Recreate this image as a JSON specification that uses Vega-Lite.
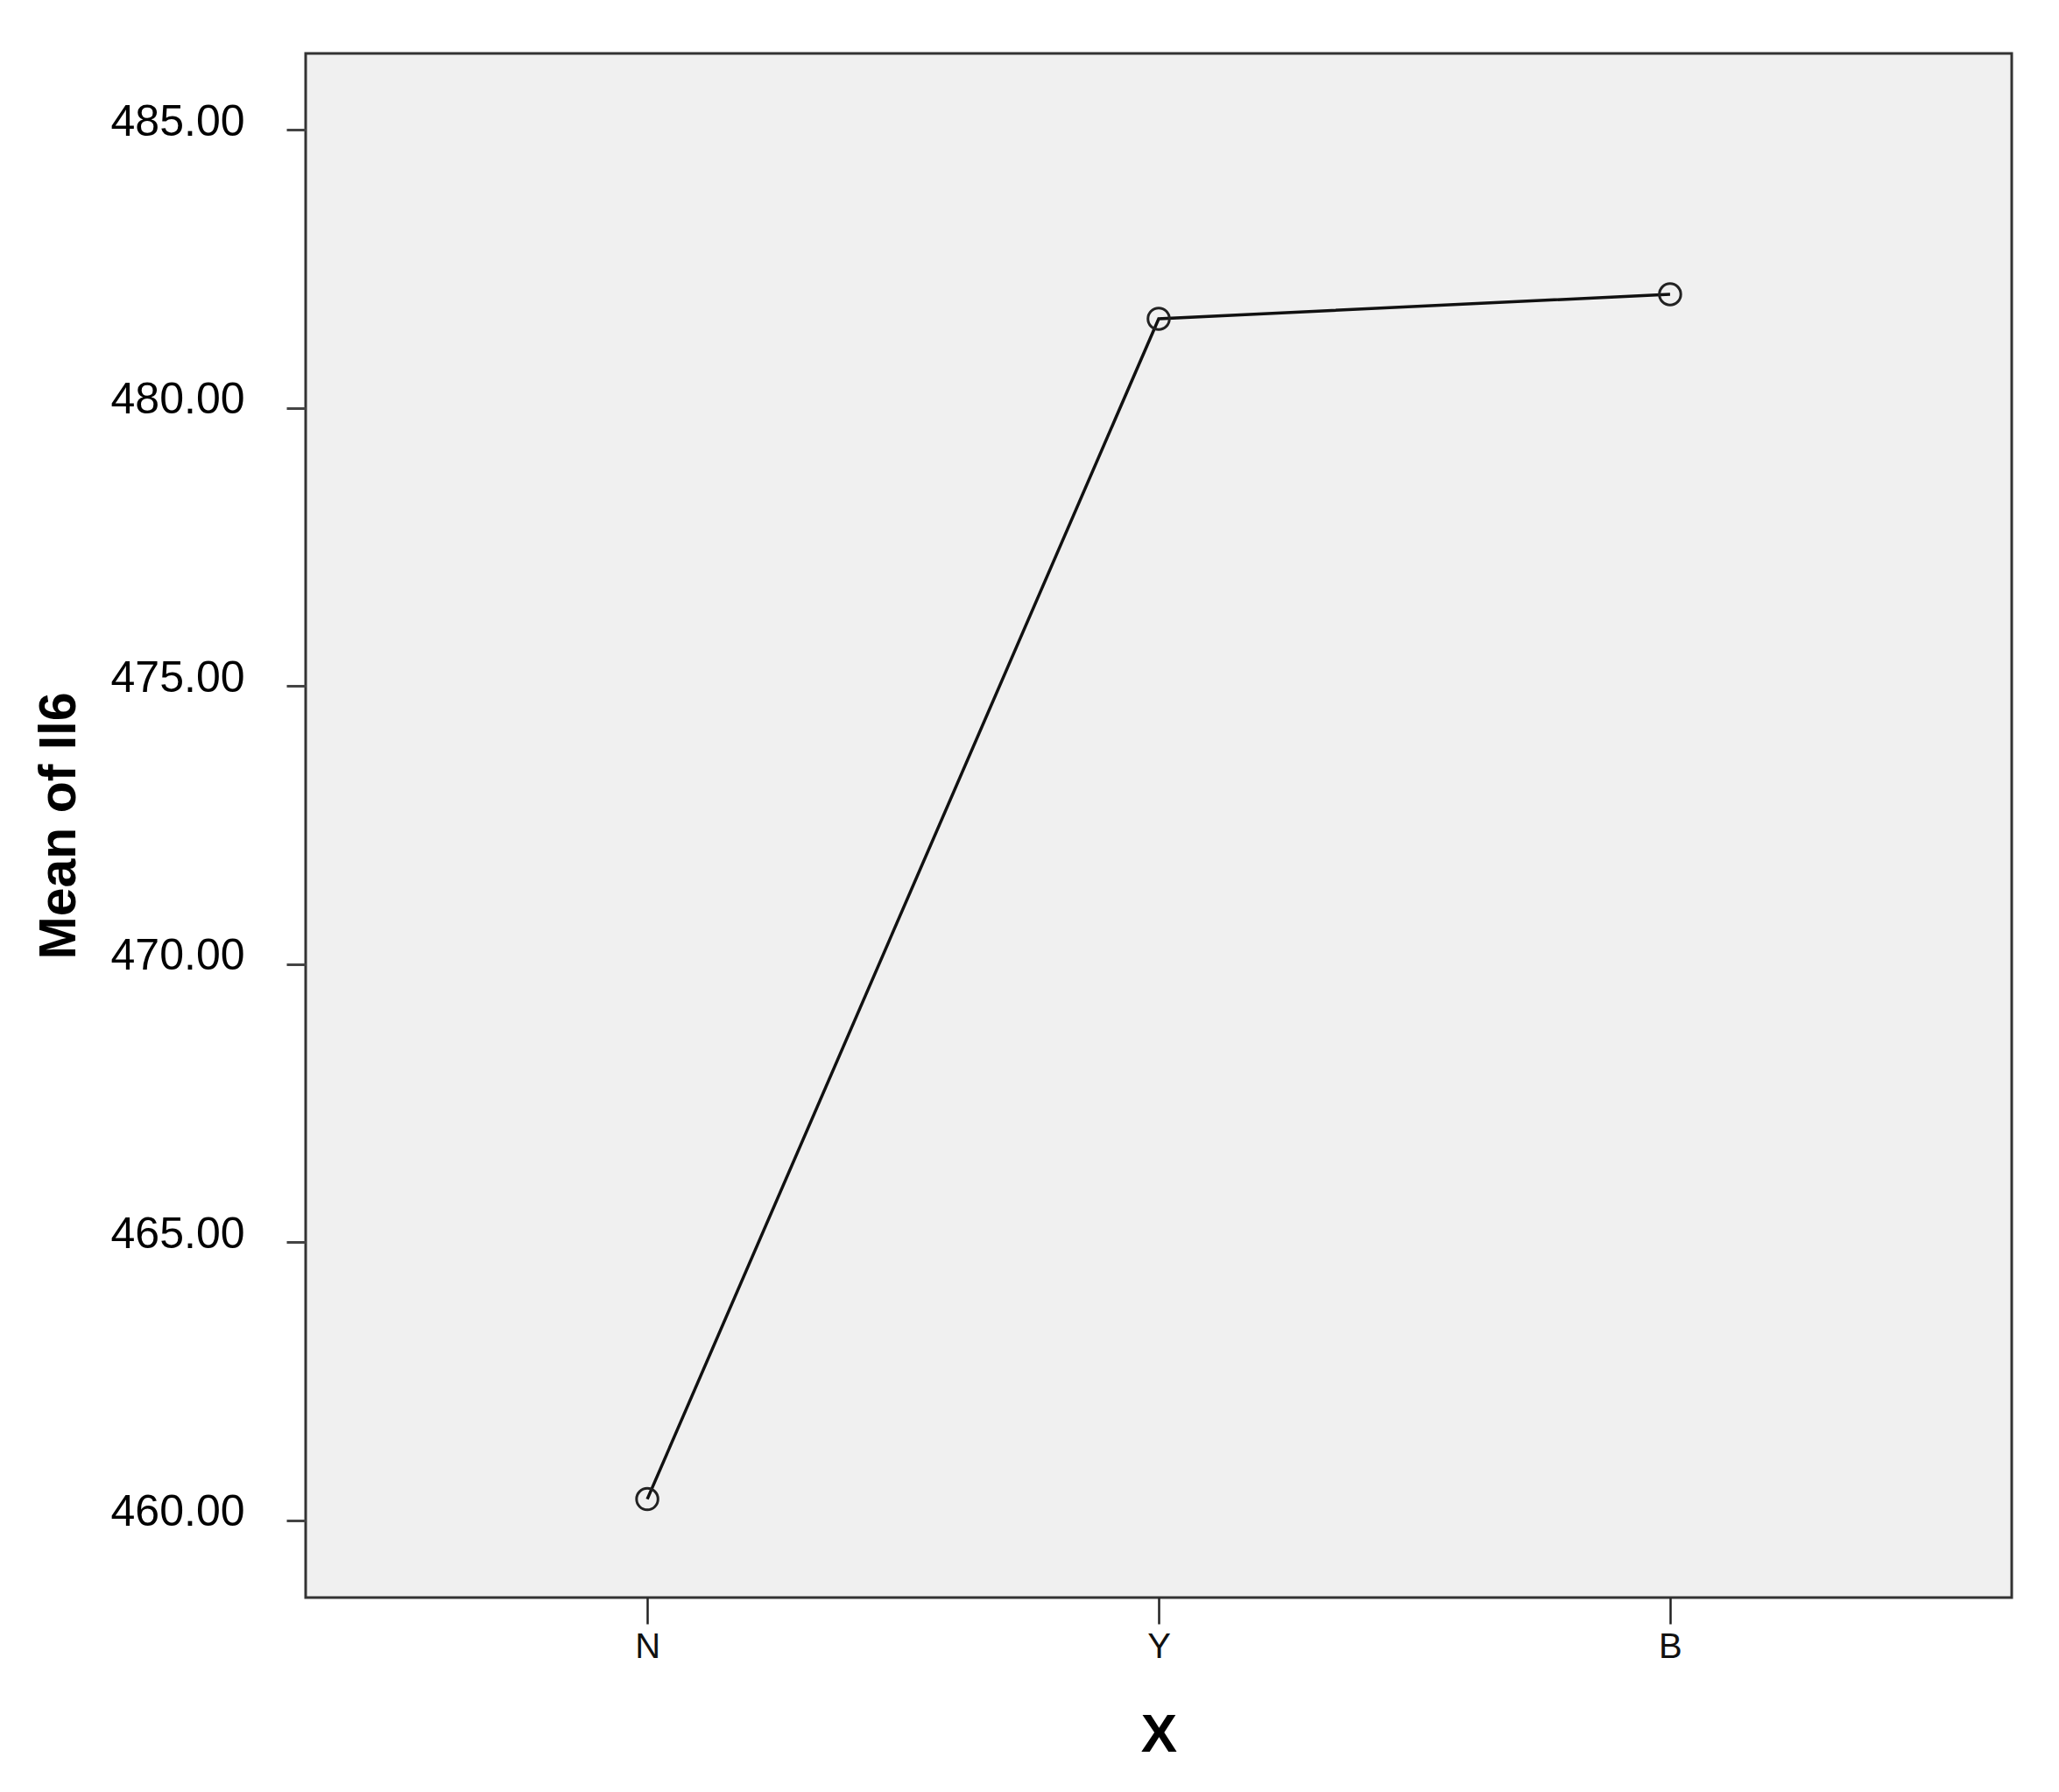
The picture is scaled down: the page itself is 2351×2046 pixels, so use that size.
{
  "$schema": "https://vega.github.io/schema/vega-lite/v6.json",
  "autosize": "none",
  "width": 1948,
  "height": 1763,
  "padding": {"left": 349, "top": 61, "right": 54, "bottom": 222},
  "background": "white",
  "config": {
    "view": {"fill": "#f0f0f0", "stroke": "#333333", "strokeWidth": 3},
    "font": "Liberation Sans"
  },
  "data": {
    "values": [
      {"X": "N", "mean": 460.38},
      {"X": "Y", "mean": 481.60},
      {"X": "B", "mean": 482.04}
    ]
  },
  "encoding": {
    "x": {
      "field": "X", "type": "ordinal", "sort": ["N", "Y", "B"],
      "scale": {"type": "point", "padding": 0.668},
      "axis": {
        "title": "X", "labelAngle": 0, "labelFontSize": 40, "labelColor": "#111111",
        "labelPadding": 6, "tickSize": 30, "tickWidth": 2.5, "tickColor": "#222222",
        "domain": false, "grid": false,
        "titleFontSize": 62, "titleFontWeight": "bold", "titleColor": "#000000", "titlePadding": 50
      }
    },
    "y": {
      "field": "mean", "type": "quantitative",
      "scale": {"domain": [458.61, 486.37], "nice": false, "zero": false},
      "axis": {
        "title": "Mean of Il6", "values": [460, 465, 470, 475, 480, 485], "format": ".2f",
        "labelFontSize": 50, "labelColor": "#000000", "labelPadding": 48, "labelOffset": -9,
        "tickSize": 22, "tickWidth": 3, "tickColor": "#444444",
        "domain": false, "grid": false,
        "titleFontSize": 59, "titleFontWeight": "bold", "titleColor": "#000000", "titlePadding": 52
      }
    }
  },
  "layer": [
    {"mark": {"type": "line", "color": "#111111", "strokeWidth": 3.5}},
    {"mark": {"type": "point", "shape": "circle", "filled": false, "stroke": "#222222", "strokeWidth": 3, "size": 600, "opacity": 1}}
  ]
}
